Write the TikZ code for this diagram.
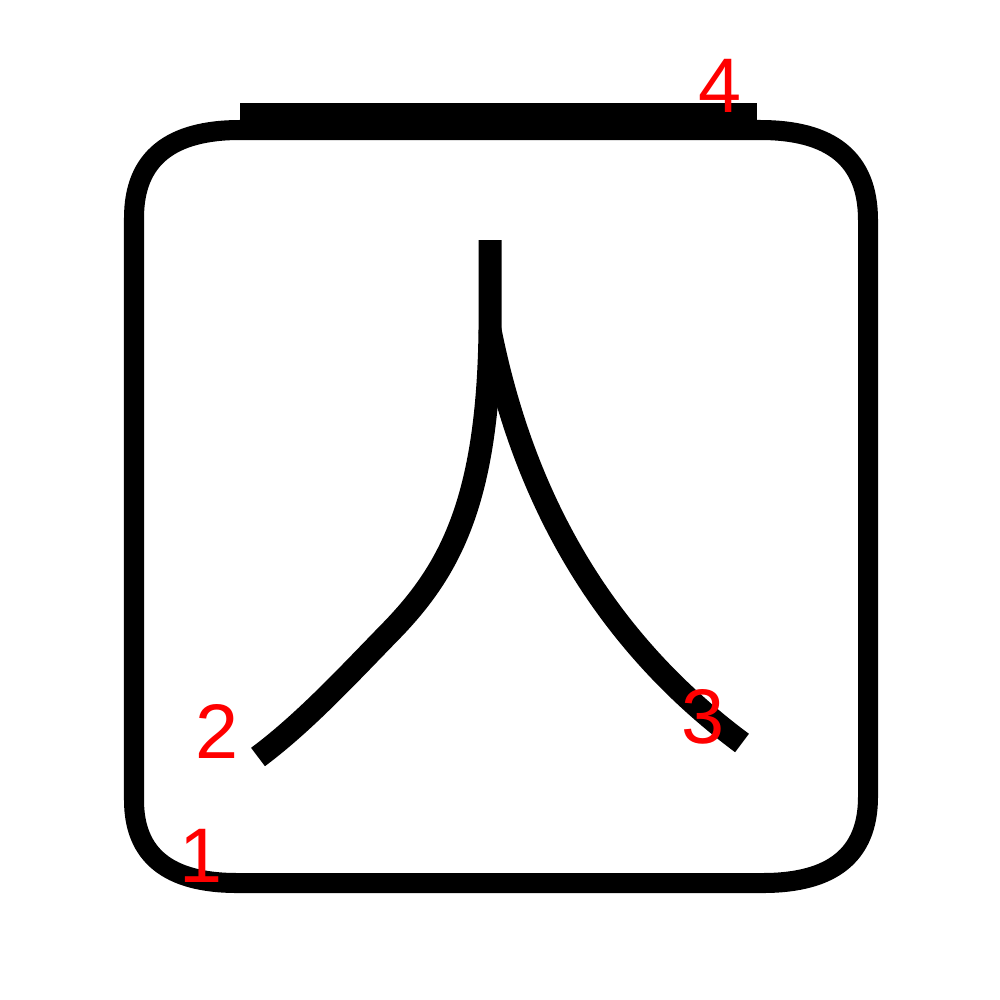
\documentclass[tikz,border=0pt]{standalone}
\usepackage{fontspec}
\setmainfont{Liberation Sans}
\usetikzlibrary{positioning}

\begin{document}
\begin{tikzpicture}[
  x=0.01cm, y=-0.01cm,
  frame/.style={draw=black, line width=0.2cm},
  bar/.style={draw=black, line width=0.32cm, line cap=butt},
  brush/.style={draw=black, line width=0.23cm, line cap=butt, line join=round},
  num/.style={text=red, font=\fontsize{22}{24}\selectfont, inner sep=0pt}
]
\useasboundingbox (0,0) rectangle (1000,1000);

% Strich 1 --- Rahmen
\draw[frame] (240,130) -- (760,130)
  .. controls (830,130) and (868,158) .. (868,220) -- (868,797)
  .. controls (868,855) and (832,883) .. (763,883) -- (237,883)
  .. controls (168,883) and (134,855) .. (134,800) -- (134,218)
  .. controls (134,158) and (171,130) .. (240,130) -- cycle;

% Strich 4 --- Balken oben
\draw[bar] (240,119) -- (757,119);

% Striche 2 und 3
\coordinate (top) at (490,240);
\coordinate (fork) at (490,330);
\coordinate (bend) at (392,630);
\coordinate (endl) at (258,757);
\coordinate (endr) at (742,743);
\draw[brush] (top) -- (fork)
  .. controls (488,500) and (450,570) .. (bend)
  .. controls (350,673) and (305,722) .. (endl);
\draw[brush] (fork) .. controls (520,480) and (590,630) .. (endr);

% Nummern
\node[num] (n1) at (201,856) {1};
\node[num] (n2) at (217,731) {2};
\node[num] (n3) at (703,717) {3};
\node[num] (n4) at (720,86) {4};
\end{tikzpicture}
\end{document}
